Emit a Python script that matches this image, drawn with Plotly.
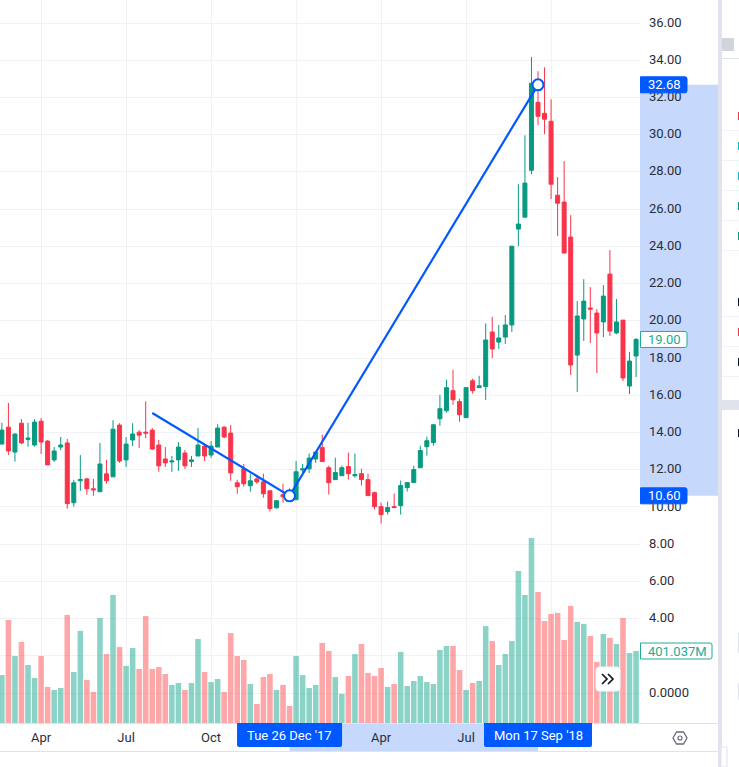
''' weekly candles with volume and a drawn path '''

import pandas as pd
import plotly.graph_objects as go

opens = [13.38, 14.29, 12.95, 14.50, 13.63, 13.33, 14.61, 13.54, 12.53, 13.22,
         13.44, 10.23, 11.41, 11.51, 10.98, 10.82, 11.78, 11.62, 14.40, 12.53,
         13.60, 14.02, 14.02, 14.13, 13.33, 12.58, 12.42, 12.53, 12.90, 12.44,
         12.74, 13.27, 12.79, 13.22, 14.29, 13.97, 11.30, 12.05, 11.14, 11.51,
         11.35, 10.87, 9.96, 10.66, 10.75, 10.39, 11.99, 12.05, 12.58, 13.19,
         12.11, 11.47, 11.68, 12.17, 11.68, 11.79, 11.47, 10.77, 10.02, 9.75,
         10.02, 10.07, 11.04, 11.31, 12.11, 13.24, 13.46, 14.74, 15.17, 16.25,
         15.66, 14.80, 16.78, 16.41, 16.47, 19.40, 18.86, 19.13, 19.78, 24.93,
         25.57, 28.09, 31.74, 31.15, 30.72, 26.75, 26.38, 24.50, 18.16, 20.10,
         20.69, 20.42, 19.94, 22.51, 19.35, 20.04, 16.50, 18.11]
highs = [14.52, 15.59, 13.95, 14.72, 14.52, 14.72, 14.77, 13.60, 13.22, 13.76,
         13.65, 11.46, 12.79, 11.57, 11.51, 13.44, 12.53, 14.66, 14.50, 13.76,
         14.50, 14.13, 15.68, 14.24, 13.60, 13.22, 12.74, 13.49, 13.06, 12.74,
         14.24, 13.33, 13.54, 14.45, 14.34, 14.40, 11.46, 12.31, 11.78, 11.73,
         11.78, 10.87, 10.34, 11.25, 11.00, 12.47, 12.31, 12.88, 12.95, 13.89,
         12.22, 12.65, 12.22, 12.92, 12.87, 12.06, 11.79, 10.83, 10.24, 10.29,
         10.72, 11.42, 11.31, 12.22, 13.29, 13.78, 14.42, 16.03, 16.84, 17.37,
         15.82, 16.41, 16.89, 17.05, 19.86, 20.22, 19.78, 20.31, 24.01, 27.34,
         29.97, 34.18, 33.41, 33.62, 31.90, 27.72, 28.58, 25.68, 21.06, 22.24,
         21.81, 20.63, 21.92, 23.80, 21.17, 20.04, 18.33, 19.08]
lows = [13.38, 12.79, 12.44, 13.38, 13.24, 13.24, 12.85, 12.26, 12.42, 13.06,
        9.91, 10.02, 10.87, 10.66, 10.60, 10.82, 11.25, 11.62, 12.37, 12.15,
        13.27, 13.17, 13.70, 13.06, 11.89, 12.15, 11.89, 11.94, 12.05, 12.15,
        12.74, 12.47, 12.63, 13.22, 13.70, 11.41, 10.71, 11.09, 10.82, 11.25,
        10.50, 9.75, 9.91, 10.23, 10.45, 10.39, 11.83, 11.83, 12.37, 12.44,
        10.67, 11.47, 11.68, 11.47, 11.58, 11.15, 10.61, 9.86, 9.11, 9.59,
        9.97, 9.59, 10.83, 11.31, 12.11, 12.76, 13.29, 14.37, 15.07, 15.49,
        14.58, 14.80, 16.09, 16.41, 15.75, 18.00, 18.49, 18.76, 19.40, 24.01,
        25.57, 27.88, 30.51, 30.03, 26.54, 24.55, 23.64, 17.09, 16.18, 18.92,
        18.81, 17.20, 19.13, 19.18, 19.29, 16.77, 16.07, 16.98]
closes = [14.13, 13.01, 13.92, 13.44, 13.70, 14.56, 13.49, 12.26, 13.01, 13.33,
          10.18, 11.30, 11.48, 10.98, 10.92, 12.31, 11.41, 14.18, 12.47, 13.38,
          13.92, 13.86, 13.97, 13.11, 12.21, 12.37, 12.47, 13.22, 12.21, 12.53,
          13.33, 12.74, 13.27, 14.24, 13.76, 11.83, 11.09, 11.25, 11.41, 11.35,
          10.71, 9.91, 10.34, 10.55, 10.60, 11.89, 12.05, 12.63, 12.95, 12.44,
          11.31, 11.85, 12.11, 11.79, 11.74, 11.47, 10.61, 10.02, 9.59, 9.97,
          9.97, 11.15, 11.31, 12.01, 13.03, 13.56, 14.42, 15.28, 16.41, 15.76,
          14.96, 16.41, 16.25, 16.51, 18.97, 18.49, 19.08, 19.78, 24.01, 25.20,
          27.40, 32.76, 30.99, 30.83, 27.34, 26.32, 23.64, 17.63, 20.26, 21.06,
          20.63, 19.35, 21.33, 19.45, 19.94, 16.93, 17.84, 19.00]
volumes = [267, 574, 373, 451, 323, 251, 373, 201, 184, 195,
           602, 284, 513, 240, 173, 585, 384, 713, 423, 318,
           418, 301, 596, 301, 312, 273, 212, 223, 184, 223,
           468, 284, 228, 245, 173, 501, 373, 351, 217, 106,
           256, 273, 184, 212, 95, 373, 267, 195, 212, 446,
           401, 256, 162, 262, 384, 440, 279, 262, 306, 201,
           217, 396, 206, 234, 262, 228, 217, 407, 429, 429,
           295, 184, 223, 234, 540, 457, 323, 384, 457, 847,
           713, 1031, 730, 568, 607, 613, 462, 652, 563, 552,
           485, 340, 496, 474, 440, 585, 390, 401.037]

week_start = '2017-02-20'
tick_dates = ['2017-04-03', '2017-07-03', '2017-10-02', '2018-01-01', '2018-04-02', '2018-07-02', '2018-10-01']
tick_names = ['Apr', 'Jul', 'Oct', '', 'Apr', 'Jul', '']
price_ticks = [36, 34, 32, 30, 28, 26, 24, 22, 20, 18, 16, 14, 12, 10, 8, 6, 4, 2, 0]
price_names = ['36.00', '34.00', '32.00', '30.00', '28.00', '26.00', '24.00', '22.00', '20.00', '18.00',
               '16.00', '14.00', '12.00', '10.00', '8.00', '6.00', '4.00', '', '0.0000']
path_dates = ['2017-07-31', '2017-12-25', '2018-09-17']
path_prices = [15.05, 10.60, 32.68]

UP = '#089981'
DOWN = '#F9344A'
BLUE = '#0059FF'
BAND = '#C6D8FB'
GRID = '#F1F2F5'
EDGE = '#E0E3EB'
INK = '#2A2E39'
LAST = '#22AB94'
FONT = 'Roboto'

W, H = 739, 767
PLOT_W, PLOT_H = 640, 723

def px(x):
    return x / PLOT_W

def py(y):
    return (PLOT_H - y) / PLOT_H

def box(x0, y0, x1, y1, color, layer='above'):
    return dict(type='rect', xref='paper', yref='paper', x0=px(x0), x1=px(x1), y0=py(y0), y1=py(y1),
                fillcolor=color, line_width=0, layer=layer)

def pixel_path(cx, cy, path, color, width=1.5, fill=None, xref='paper', yref='paper'):
    return dict(type='path', xref=xref, yref=yref, xsizemode='pixel', ysizemode='pixel',
                xanchor=cx, yanchor=cy, path=path, fillcolor=fill,
                line=dict(color=color, width=width))

def price_tag(y, yref, fill, stroke, width=47):
    # flat on the scale side, rounded on the other
    path = f'M 0.5 8 H {width - 2} Q {width} 8 {width} 6 V -6 Q {width} -8 {width - 2} -8 H 0.5 Z'
    return pixel_path(1, y, path, stroke, 1, fill, yref=yref)

def time_tag(when, half):
    path = f'M {-half} 12 H {half} V -10 Q {half} -12 {half - 2} -12 H {2 - half} Q {-half} -12 {-half} -10 Z'
    return pixel_path(when, py(735), path, BLUE, 0, BLUE, xref='x')

def price_text(text, y, yref, ink, offset=24):
    return dict(text=text, xref='paper', yref=yref, x=1, y=y, xshift=offset, yshift=0, xanchor='center',
                yanchor='middle', showarrow=False, font=dict(family=FONT, size=13, color=ink))

def time_text(text, when):
    return dict(text=text, xref='x', yref='paper', x=when, y=py(735), xanchor='center', yanchor='middle',
                showarrow=False, font=dict(family=FONT, size=13, color='white'))

dates = pd.date_range(week_start, periods=len(opens), freq='7D')
vol_colors = ['rgba(34,171,148,0.53)' if c >= o else 'rgba(253,77,82,0.5)' for o, c in zip(opens, closes)]

fig = go.Figure()
fig.add_trace(go.Bar(x=dates, y=volumes, yaxis='y2', marker=dict(color=vol_colors, line_width=0), hoverinfo='skip'))
fig.add_trace(go.Candlestick(x=dates, open=opens, high=highs, low=lows, close=closes,
                             increasing=dict(line=dict(color=UP, width=1), fillcolor=UP),
                             decreasing=dict(line=dict(color=DOWN, width=1), fillcolor=DOWN),
                             hoverinfo='skip'))
fig.add_trace(go.Scatter(x=path_dates, y=path_prices, mode='lines',
                         line=dict(color=BLUE, width=2.2), hoverinfo='skip'))
# the two picked points get a ring, the start of the path does not
fig.add_trace(go.Scatter(x=path_dates[1:], y=path_prices[1:], mode='markers',
                         marker=dict(size=11, color='white', line=dict(color=BLUE, width=2)),
                         hoverinfo='skip'))

shapes = [
    # highlighted ranges on both scales
    dict(type='rect', xref='paper', yref='y', x0=1, x1=px(718), y0=path_prices[1], y1=path_prices[2],
         fillcolor=BAND, line_width=0, layer='below'),
    dict(type='rect', xref='x', yref='paper', x0=path_dates[1], x1=path_dates[2], y0=py(751), y1=py(723),
         fillcolor=BAND, line_width=0, layer='below'),
    # frame around the time scale
    box(0, 723, 718, 724, EDGE),
    box(0, 751, 718, 752, EDGE),
    # side panel
    box(718, 0, 722, 767, EDGE),
    box(722, 400, 739, 410, EDGE),
    box(722, 58, 739, 59, EDGE),
    box(722, 38, 734, 51, '#D1D4DC'),
]
for row_y in [130, 160, 190, 220, 250, 316, 346, 376]:
    shapes.append(box(722, row_y, 739, row_y + 1, GRID))
for mark_y, mark_color in [(116, '#F23645'), (146, '#00BCD4'), (176, '#00BCD4'), (206, '#089981'),
                           (236, '#089981'), (302, '#131722'), (332, '#F23645'), (362, '#131722'),
                           (433, '#131722')]:
    shapes.append(box(738, mark_y - 4, 739, mark_y + 4, mark_color))
for mark_y0, mark_y1 in [(633, 653), (683, 700)]:
    shapes.append(box(738, mark_y0, 739, mark_y1, EDGE))

# scroll button
shapes.append(pixel_path(px(608), py(679), 'M -9 12 H 9 Q 12 12 12 9 V -9 Q 12 -12 9 -12 H -9 Q -12 -12 -12 -9 V 9 Q -12 12 -9 12 Z',
                         '#F0F3FA', 1, 'white'))
shapes.append(pixel_path(px(608), py(679), 'M -6 5 L -1 0 L -6 -5 M 0 5 L 5 0 L 0 -5', '#131722', 1.7))
# settings icon
shapes.append(pixel_path(px(680), py(738), 'M -7 0 L -3.5 6 L 3.5 6 L 7 0 L 3.5 -6 L -3.5 -6 Z', '#6A6D78', 1.3))
shapes.append(dict(type='circle', xref='paper', yref='paper', xsizemode='pixel', ysizemode='pixel',
                   xanchor=px(680), yanchor=py(738), x0=-2, x1=2, y0=-2, y1=2,
                   line=dict(color='#6A6D78', width=1.2)))
# side panel toggle
shapes.append(pixel_path(px(724), py(757), 'M -3 10 H 3 V -10 H -3 Z', EDGE, 1, 'white'))

# tags on the scales
shapes += [
    price_tag(path_prices[2], 'y', BLUE, BLUE),
    price_tag(path_prices[1], 'y', BLUE, BLUE),
    price_tag(closes[-1], 'y', 'white', LAST),
    price_tag(volumes[-1], 'y2', 'white', LAST, 72),
    time_tag(path_dates[1], 52.5),
    time_tag(path_dates[2], 54),
]

annotations = [
    price_text('32.68', path_prices[2], 'y', 'white'),
    price_text('10.60', path_prices[1], 'y', 'white'),
    price_text('19.00', closes[-1], 'y', LAST),
    price_text('401.037M', volumes[-1], 'y2', LAST, 37),
    time_text("Tue 26 Dec '17", path_dates[1]),
    time_text("Mon 17 Sep '18", path_dates[2]),
]

fig.update_layout(
    width=W, height=H,
    margin=dict(l=0, r=W - PLOT_W, t=0, b=H - PLOT_H, pad=0),
    paper_bgcolor='white', plot_bgcolor='white',
    showlegend=False, bargap=0.15, boxgap=0.39, boxgroupgap=0,
    font=dict(family=FONT, size=13, color=INK),
    shapes=shapes, annotations=annotations,
    xaxis=dict(type='date', range=['2017-02-18', '2019-01-04 05:00'], rangeslider_visible=False,
               tickvals=tick_dates, ticktext=tick_names, tickangle=0, showgrid=True, gridcolor=GRID, gridwidth=1,
               showline=False, zeroline=False, ticks='', ticklabelstandoff=5),
    yaxis=dict(range=[-1.604, 37.236], side='right', tickvals=price_ticks, ticktext=price_names,
               showgrid=True, gridcolor=GRID, gridwidth=1, showline=False, zeroline=False,
               ticks='', ticklabelstandoff=8, ticklabelshift=-1),
    yaxis2=dict(range=[0, 4027], overlaying='y', side='right', visible=False),
)

fig.write_html('out.html', config=dict(displayModeBar=False),
               post_script="document.body.style.margin='0';")
